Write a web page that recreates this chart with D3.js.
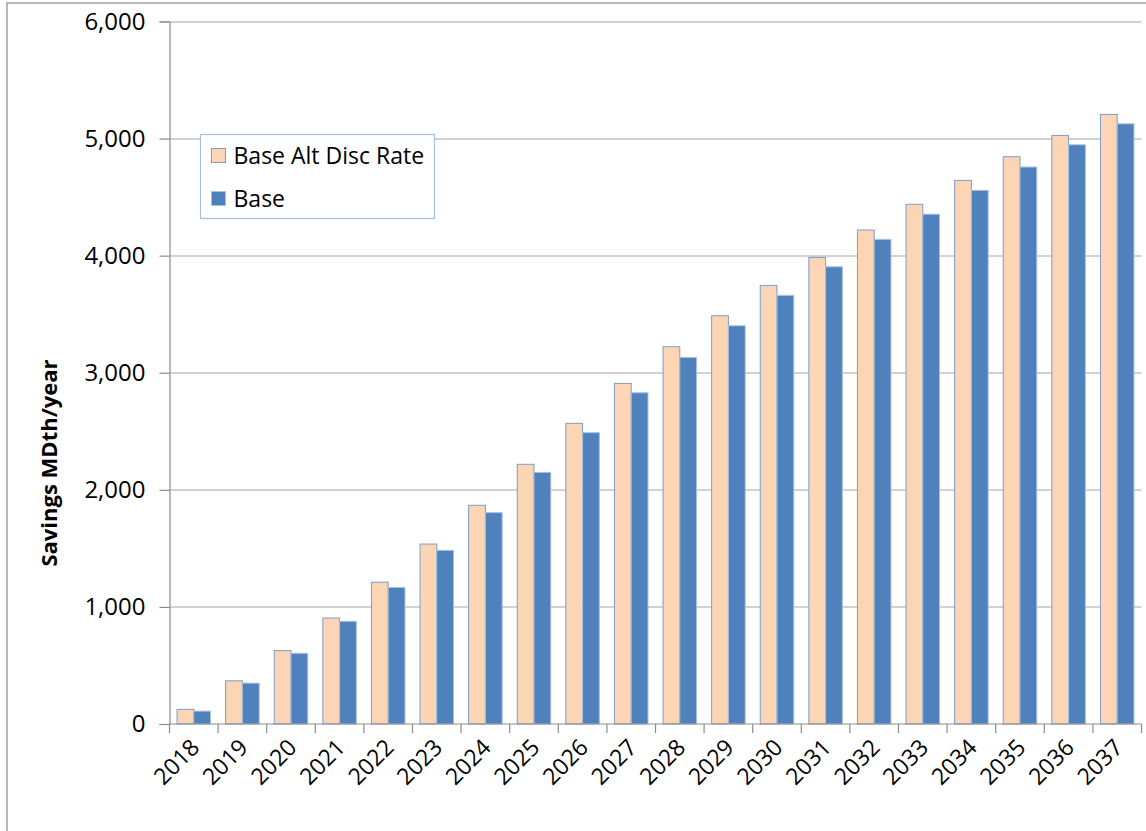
<!DOCTYPE html>
<html>
<head>
<meta charset="utf-8">
<script src="https://cdn.jsdelivr.net/npm/d3@7"></script>
<style>
  body { margin: 0; background: #fff; }
  svg { display: block; font-family: "Open Sans", "Noto Sans", sans-serif; }
</style>
</head>
<body>
<div id="chart"></div>
<script>
const years = ["2018", "2019", "2020", "2021", "2022", "2023", "2024", "2025", "2026", "2027",
    "2028", "2029", "2030", "2031", "2032", "2033", "2034", "2035", "2036", "2037"];
const series_names = ["Base Alt Disc Rate", "Base"];
const alt_disc_rate = [125, 369, 627, 905, 1211, 1537, 1868, 2218, 2568, 2909,
    3222, 3487, 3746, 3985, 4219, 4439, 4643, 4845, 5027, 5206];
const base = [110, 349, 604, 877, 1166, 1483, 1805, 2149, 2488, 2829,
    3131, 3401, 3661, 3905, 4139, 4354, 4558, 4757, 4947, 5126];
const y_ticks = [0, 1000, 2000, 3000, 4000, 5000, 6000];

const fill_colors = ["#fcd5b4", "#4f81bd"];
const stroke_colors = ["#7e9ccb", "#a9c0e0"];

const full_width = 1146, full_height = 831;
const margin = { top: 21.5, right: 4.5, bottom: 107, left: 169.5 };
const width = full_width - margin.left - margin.right;
const height = full_height - margin.top - margin.bottom;

const data = years.map((y, i) => ({ year: y, values: [alt_disc_rate[i], base[i]] }));

const svg = d3.select("#chart").append("svg")
    .attr("width", full_width)
    .attr("height", full_height);

// outer chart frame
svg.append("rect")
    .attr("x", 7).attr("y", 3)
    .attr("width", full_width + 10).attr("height", full_height + 10)
    .attr("fill", "none")
    .attr("stroke", "#8c8c8c")
    .attr("stroke-width", 1.2);

const g = svg.append("g").attr("transform", `translate(${margin.left},${margin.top})`);

const x = d3.scaleBand().domain(years).range([0, width]).paddingInner(0.31).paddingOuter(0.155);
const x_inner = d3.scaleBand().domain([0, 1]).range([0, x.bandwidth()]);
const y = d3.scaleLinear().domain([0, 6000]).range([height, 0]);

// gridlines
g.append("g")
    .selectAll("line")
    .data(y_ticks.filter(d => d > 0))
    .enter().append("line")
    .attr("x1", 0).attr("x2", width)
    .attr("y1", d => Math.round(y(d)) + 0.5).attr("y2", d => Math.round(y(d)) + 0.5)
    .attr("stroke", "#a6a6a6")
    .attr("stroke-width", 1.2);

// bars
const groups = g.append("g")
    .selectAll("g")
    .data(data)
    .enter().append("g")
    .attr("transform", d => `translate(${x(d.year)},0)`);

groups.selectAll("rect")
    .data(d => d.values.map((v, i) => ({ i, v })))
    .enter().append("rect")
    .attr("x", d => x_inner(d.i))
    .attr("y", d => y(d.v))
    .attr("width", x_inner.bandwidth())
    .attr("height", d => height - y(d.v))
    .attr("fill", d => fill_colors[d.i])
    .attr("stroke", d => stroke_colors[d.i])
    .attr("stroke-width", 1);

// y axis
const y_axis = g.append("g")
    .call(d3.axisLeft(y).tickValues(y_ticks).tickFormat(d3.format(",")).tickSize(10).tickPadding(14));
y_axis.attr("font-family", null);
y_axis.select(".domain").attr("stroke", "#8c8c8c").attr("stroke-width", 1.2);
y_axis.selectAll(".tick line").attr("stroke", "#8c8c8c").attr("stroke-width", 1.2);
y_axis.selectAll(".tick text")
    .style("font-size", "24px")
    .attr("fill", "#000");

// x axis with ticks on band boundaries
const x_axis = g.append("g").attr("transform", `translate(0,${height})`);
x_axis.append("line")
    .attr("x1", 0).attr("x2", width)
    .attr("stroke", "#8c8c8c").attr("stroke-width", 1.2);
x_axis.selectAll(".sep")
    .data(d3.range(years.length + 1))
    .enter().append("line")
    .attr("class", "sep")
    .attr("x1", i => i * x.step()).attr("x2", i => i * x.step())
    .attr("y1", 0).attr("y2", 9)
    .attr("stroke", "#8c8c8c").attr("stroke-width", 1.2);
x_axis.selectAll(".lbl")
    .data(years)
    .enter().append("text")
    .attr("class", "lbl")
    .attr("text-anchor", "end")
    .attr("transform", d => `translate(${x(d) + x.bandwidth() / 2 + 7},${25}) rotate(-45)`)
    .style("font-size", "23px")
    .attr("fill", "#000")
    .text(d => d);

// y axis title
svg.append("text")
    .attr("transform", `translate(57,463) rotate(-90)`)
    .attr("text-anchor", "middle")
    .style("font-size", "22px")
    .style("font-weight", "bold")
    .text("Savings MDth/year");

// legend
const legend = svg.append("g").attr("transform", "translate(200.5,134.5)");
legend.append("rect")
    .attr("width", 234).attr("height", 84)
    .attr("fill", "#fff")
    .attr("stroke", "#a7bfe0")
    .attr("stroke-width", 1.2);
series_names.forEach((name, i) => {
    legend.append("rect")
        .attr("x", 11).attr("y", 14 + i * 43)
        .attr("width", 14).attr("height", 14)
        .attr("fill", fill_colors[i])
        .attr("stroke", stroke_colors[i]);
    legend.append("text")
        .attr("x", 33).attr("y", 29 + i * 43)
        .style("font-size", "23px")
        .attr("fill", "#000")
        .text(name);
});
</script>
</body>
</html>
